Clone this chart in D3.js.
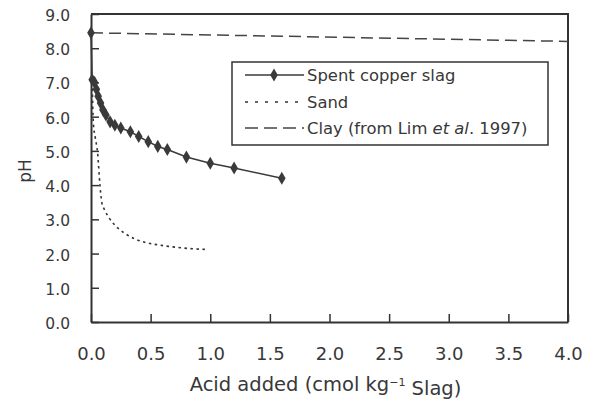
<!DOCTYPE html>
<html>
<head>
<meta charset="utf-8">
<script src="https://cdn.jsdelivr.net/npm/d3@7"></script>
<style>
  body { margin: 0; background: #fff; }
  text { font-family: "DejaVu Sans", sans-serif; fill: #383838; }
</style>
</head>
<body>
<div id="chart"></div>
<script>
// data
var slagX  = [0, 0.01, 0.03, 0.045, 0.06, 0.08, 0.1, 0.125, 0.16, 0.2, 0.25, 0.33, 0.4, 0.48, 0.56, 0.64, 0.8, 1.0, 1.2, 1.6];
var slagPH = [8.45, 7.08, 7.0, 6.8, 6.6, 6.4, 6.2, 6.05, 5.85, 5.75, 5.67, 5.56, 5.42, 5.27, 5.13, 5.04, 4.82, 4.64, 4.5, 4.2];
var sandX  = [0.01, 0.02, 0.035, 0.055, 0.075, 0.09, 0.115, 0.15, 0.2, 0.28, 0.36, 0.45, 0.55, 0.65, 0.75, 0.85, 0.97];
var sandPH = [7.0, 5.8, 5.4, 4.95, 4.0, 3.5, 3.27, 3.05, 2.83, 2.6, 2.44, 2.33, 2.26, 2.21, 2.17, 2.14, 2.12];
var clayX  = [0, 4];
var clayPH = [8.45, 8.2];
var xTicks = [0, 0.5, 1, 1.5, 2, 2.5, 3, 3.5, 4];
var yTicks = [0, 1, 2, 3, 4, 5, 6, 7, 8, 9];
var legendLabels = ["Spent copper slag", "Sand", "Clay"];

var margin = { left: 91, right: 24, top: 14, bottom: 77 };
var width = 592 - margin.left - margin.right;
var height = 399 - margin.top - margin.bottom;

var svg = d3.select("#chart").append("svg")
    .attr("width", 592)
    .attr("height", 399);
var g = svg.append("g")
    .attr("transform", "translate(" + margin.left + "," + margin.top + ")");

var x = d3.scaleLinear().domain([0, 4]).range([0, width]);
var y = d3.scaleLinear().domain([0, 9]).range([height, 0]);

var zip = function(xs, ys) { return xs.map(function(v, i) { return { x: v, y: ys[i] }; }); };
var line = d3.line().x(function(d) { return x(d.x); }).y(function(d) { return y(d.y); });

// box top + right
g.append("path")
    .attr("d", "M0,0H" + width + "V" + height)
    .attr("fill", "none").attr("stroke", "#333").attr("stroke-width", 2);

// axes
var xAxis = g.append("g")
    .attr("transform", "translate(0," + height + ")")
    .call(d3.axisBottom(x).tickValues(xTicks).tickFormat(d3.format(".1f"))
        .tickSizeInner(-8).tickSizeOuter(0).tickPadding(25));
xAxis.selectAll("text").attr("font-size", "18px").style("font-family", "DejaVu Sans").attr("fill", "#383838");

var yAxis = g.append("g")
    .call(d3.axisLeft(y).tickValues(yTicks).tickFormat(d3.format(".1f"))
        .tickSizeInner(-8).tickSizeOuter(0).tickPadding(21));
yAxis.selectAll("text").attr("font-size", "15.5px").attr("dy", "0.42em")
    .style("font-family", "DejaVu Sans").attr("fill", "#383838");

[xAxis, yAxis].forEach(function(a) {
    a.select(".domain").attr("stroke", "#333").attr("stroke-width", 2);
    a.selectAll(".tick line").attr("stroke", "#333").attr("stroke-width", 1.5);
});

// series
g.append("path")
    .attr("d", line(zip(clayX, clayPH)))
    .attr("fill", "none").attr("stroke", "#444").attr("stroke-width", 1.5)
    .attr("stroke-dasharray", "12,6");

g.append("path")
    .attr("d", line.curve(d3.curveMonotoneX)(zip(sandX, sandPH)))
    .attr("fill", "none").attr("stroke", "#333").attr("stroke-width", 1.6)
    .attr("stroke-dasharray", "2.5,3.5");
line.curve(d3.curveLinear);

var slag = zip(slagX, slagPH);
g.append("path")
    .attr("d", line(slag))
    .attr("fill", "none").attr("stroke", "#3a3a3a").attr("stroke-width", 1.5);

var diamond = d3.symbol().type(d3.symbolDiamond).size(50);
g.selectAll(".slag")
    .data(slag)
    .enter().append("path")
    .attr("class", "slag")
    .attr("transform", function(d) { return "translate(" + x(d.x) + "," + y(d.y) + ")"; })
    .attr("d", diamond)
    .attr("fill", "#3a3a3a");

// legend
var lg = svg.append("g").attr("transform", "translate(232,62)");
lg.append("rect")
    .attr("width", 316).attr("height", 83)
    .attr("fill", "#fff").attr("stroke", "#333").attr("stroke-width", 1.5);
var rows = [13, 40, 66];
lg.append("line").attr("x1", 13).attr("x2", 72).attr("y1", rows[0]).attr("y2", rows[0])
    .attr("stroke", "#3a3a3a").attr("stroke-width", 1.5);
lg.append("path").attr("d", diamond).attr("transform", "translate(42," + rows[0] + ")").attr("fill", "#3a3a3a");
lg.append("line").attr("x1", 13).attr("x2", 72).attr("y1", rows[1]).attr("y2", rows[1])
    .attr("stroke", "#333").attr("stroke-width", 1.5).attr("stroke-dasharray", "3,7");
lg.append("line").attr("x1", 13).attr("x2", 72).attr("y1", rows[2]).attr("y2", rows[2])
    .attr("stroke", "#444").attr("stroke-width", 1.5).attr("stroke-dasharray", "13,6");

lg.append("text").attr("x", 75).attr("y", rows[0]).attr("dy", "0.35em")
    .attr("font-size", "16.4px").text(legendLabels[0]);
lg.append("text").attr("x", 75).attr("y", rows[1]).attr("dy", "0.35em")
    .attr("font-size", "16.4px").text(legendLabels[1]);
var clayText = lg.append("text").attr("x", 75).attr("y", rows[2]).attr("dy", "0.35em")
    .attr("font-size", "16.4px");
clayText.append("tspan").text(legendLabels[2] + " (from Lim ");
clayText.append("tspan").attr("font-style", "italic").text("et al");
clayText.append("tspan").text(". 1997)");

// axis titles
var xt = svg.append("text")
    .attr("x", margin.left + width / 2 - 4)
    .attr("y", 391)
    .attr("text-anchor", "middle")
    .attr("font-size", "19.5px");
xt.append("tspan").text("Acid added (cmol kg");
xt.append("tspan").attr("dy", "-0.45em").attr("font-size", "11px").text("\u22121");
xt.append("tspan").attr("dy", "0.45em").text(" Slag)");

svg.append("text")
    .attr("transform", "translate(31,171) rotate(-90)")
    .attr("text-anchor", "middle")
    .attr("font-size", "17px")
    .text("pH");
</script>
</body>
</html>
